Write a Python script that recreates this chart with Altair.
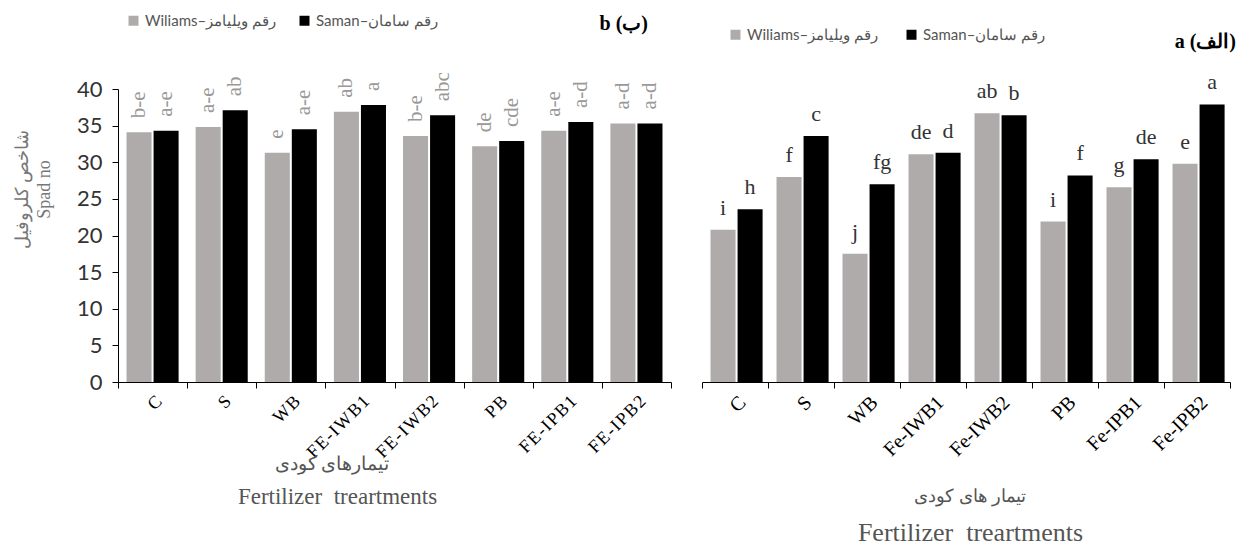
import altair as alt
import pandas as pd

# ---- data ----
cultivars = ["Wiliams–رقم ویلیامز", "Saman–رقم سامان"]
colors = ["#AFABAB", "#000000"]

cats_b = ["C", "S", "WB", "FE-IWB1", "FE-IWB2", "PB", "FE-IPB1", "FE-IPB2"]
wil_b = [34.1, 34.8, 31.3, 36.9, 33.6, 32.2, 34.3, 35.3]
sam_b = [34.3, 37.1, 34.5, 37.8, 36.4, 32.9, 35.5, 35.3]
wil_b_let = ["b-e", "a-e", "e", "ab", "b-e", "de", "a-e", "a-d"]
sam_b_let = ["a-e", "ab", "a-e", "a", "abc", "cde", "a-d", "a-d"]

cats_a = ["C", "S", "WB", "Fe-IWB1", "Fe-IWB2", "PB", "Fe-IPB1", "Fe-IPB2"]
wil_a = [20.8, 28.0, 17.5, 31.1, 36.7, 21.9, 26.6, 29.8]
sam_a = [23.6, 33.6, 27.0, 31.3, 36.4, 28.2, 30.4, 37.9]
wil_a_let = ["i", "f", "j", "de", "ab", "i", "g", "e"]
sam_a_let = ["h", "c", "fg", "d", "b", "f", "de", "a"]

y_ticks = [0, 5, 10, 15, 20, 25, 30, 35, 40]

title_en = "Fertilizer\u00a0\u00a0treartments"
title_fa_b = "تیمارهای کودی"
title_fa_a = "تیمار های کودی"


def long(cats, w, s, wl, sl):
    rows = []
    for c, a, b, la, lb in zip(cats, w, s, wl, sl):
        rows.append({"cat": c, "cultivar": cultivars[0], "value": a, "letter": la})
        rows.append({"cat": c, "cultivar": cultivars[1], "value": b, "letter": lb})
    return pd.DataFrame(rows)


df_b = long(cats_b, wil_b, sam_b, wil_b_let, sam_b_let)
df_a = long(cats_a, wil_a, sam_a, wil_a_let, sam_a_let)

SERIF = "Liberation Serif"
SANS = "Lato"

color_scale = alt.Scale(domain=cultivars, range=colors)
xoff = alt.XOffset("cultivar:N", sort=cultivars,
                   scale=alt.Scale(paddingInner=0.074, paddingOuter=0.315))


def panel(df, cats, left_axis, legend_x, legend_y, col_pad, label_size,
          en_size, en_x, en_y, letters_rot, label_expr=None):
    axis_kw = dict(
        labelAngle=-45, labelFont=SERIF, labelFontSize=label_size,
        labelFontWeight="normal", labelColor="#000", labelPadding=4,
        tickBand="extent", ticks=True, tickSize=6, tickColor="#000",
        domainColor="#000", domainWidth=1,
        title=title_en, titleFont=SERIF, titleFontSize=en_size,
        titleColor="#555", titleFontWeight="normal", titleX=en_x,
        titleY=en_y, titleAlign="center", titleBaseline="middle",
    )
    if label_expr:
        axis_kw["labelExpr"] = label_expr
    xaxis = alt.Axis(**axis_kw)
    x = alt.X("cat:N", sort=cats, axis=xaxis,
              scale=alt.Scale(paddingInner=0, paddingOuter=0))
    if left_axis:
        yaxis = alt.Axis(
            values=y_ticks, grid=False, domainColor="#000", tickColor="#000",
            tickSize=6, labelFont=SANS, labelFontSize=22, labelColor="#333",
            labelFontWeight="normal", labelPadding=10,
            title=["شاخص کلروفیل", "Spad no"], titleFont=SERIF,
            titleFontSize=18, titleColor="#777", titleFontWeight="normal",
            titleAngle=270, titleX=-96, titleY=100, titleLineHeight=22,
            titleAlign="center", titleBaseline="middle",
        )
    else:
        yaxis = None
    y = alt.Y("value:Q", scale=alt.Scale(domain=[0, 40], nice=False),
              axis=yaxis)
    bars = alt.Chart(df).mark_bar().encode(
        x=x, xOffset=xoff, y=y,
        color=alt.Color(
            "cultivar:N", scale=color_scale, sort=cultivars,
            legend=alt.Legend(
                orient="none", legendX=legend_x, legendY=legend_y,
                direction="horizontal", title=None, symbolType="square",
                symbolSize=100, symbolStrokeWidth=0, labelFont=SANS,
                labelFontSize=15, labelColor="#555", columnPadding=col_pad,
                labelOffset=4,
            ),
        ),
    )
    if letters_rot:
        txt = alt.Chart(df).mark_text(
            angle=270, align="left", baseline="middle", dx=14,
            font=SERIF, fontSize=21, color="#999",
        )
    else:
        txt = alt.Chart(df).mark_text(
            align="center", baseline="alphabetic", dy=-15,
            font=SERIF, fontSize=22, color="#333",
        )
    txt = txt.encode(x=x, xOffset=xoff, y=y, text="letter:N")
    return bars, txt


def note(text, x, y, size, color, weight="normal", font=SERIF, align="center"):
    return alt.Chart(pd.DataFrame({"t": [text]})).mark_text(
        align=align, baseline="middle", font=font, fontSize=size,
        fontWeight=weight, color=color,
    ).encode(x=alt.value(x), y=alt.value(y), text="t:N")


spaced = "join(split(datum.label, ''), '\u200a')"
bars_b, txt_b = panel(df_b, cats_b, True, 8, -76, 20, 18, 23, 219, 114, True,
                      label_expr=spaced)
lab_b = note("b (ب)", 530, -65, 20, "#000", weight="bold", align="right")
fa_b = note(title_fa_b, 214, 375, 19, "#555")
left = alt.layer(bars_b, txt_b, lab_b, fa_b).properties(width=553, height=293)

bars_a, txt_a = panel(df_a, cats_a, False, 26, -62, 25, 20, 26, 268, 150, False)
lab_a = note("a (الف)", 534, -47, 20, "#000", weight="bold", align="right")
fa_a = note(title_fa_a, 268, 408, 18, "#555")
right = alt.layer(bars_a, txt_a, lab_a, fa_a).properties(width=528, height=293)

chart = (
    alt.hconcat(left, right, spacing=29)
    .resolve_scale(color="independent", y="independent", x="independent")
    .resolve_legend(color="independent")
    .properties(padding={"left": 5, "top": 5, "right": 2, "bottom": 2},
                background="white")
    .configure_view(stroke=None)
)

chart.save("out.html", embed_options={"renderer": "svg", "actions": False})
